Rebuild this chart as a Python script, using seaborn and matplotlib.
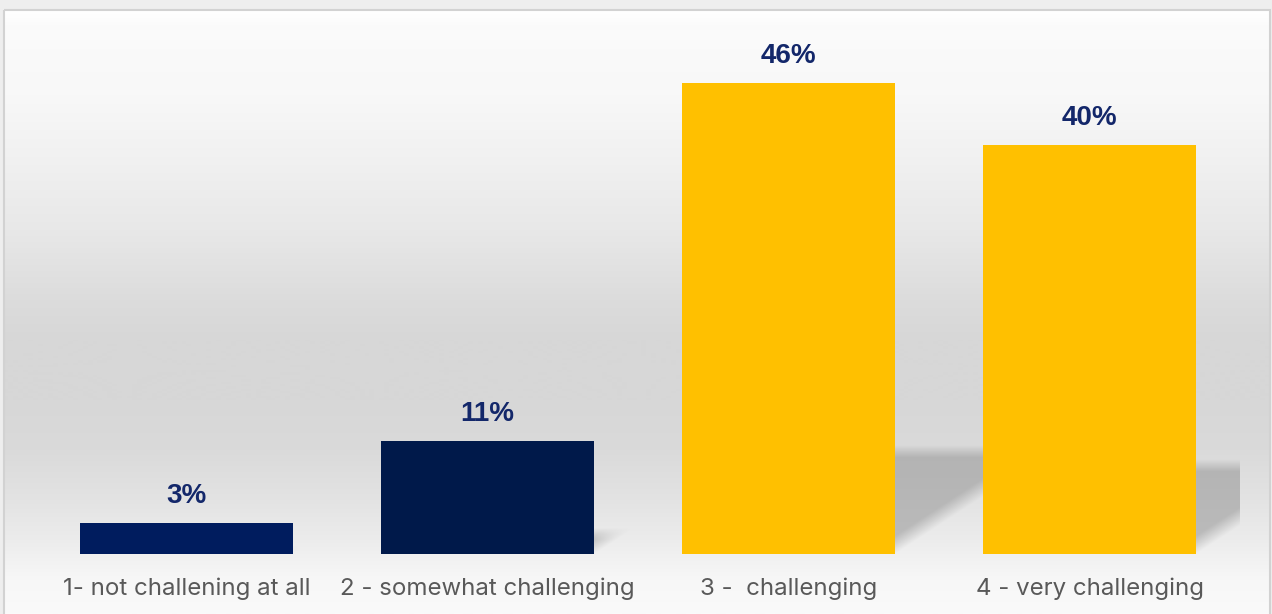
import numpy as np
import matplotlib
matplotlib.use("Agg")
import matplotlib.pyplot as plt
from matplotlib.patches import Rectangle
from matplotlib.colors import to_rgb
import seaborn as sns
import pandas as pd

categories = ["1- not challening at all", "2 - somewhat challenging",
              "3 -  challenging", "4 - very challenging"]
values = [3, 11, 46, 40]
labels = ["3%", "11%", "46%", "40%"]
bar_colors = ["#001c5e", "#00194a", "#ffc000", "#ffc000"]

sns.set_theme(style="white")
plt.rcParams["font.family"] = ["Inter", "DejaVu Sans"]

W, H = 1272, 614
fig = plt.figure(figsize=(W / 100, H / 100), dpi=100)
fig.patch.set_facecolor("#eeeeee")

# background panel with vertical gradient
bg = fig.add_axes([0, 0, 1, 1], zorder=0)
stops = [(10, "#ffffff"), (25, "#fbfbfb"), (95, "#f8f8f8"), (165, "#f0f0f0"),
         (230, "#e8e8e8"), (300, "#dcdcdc"), (340, "#d7d7d7"), (400, "#d7d7d7"),
         (450, "#dadada"), (500, "#e3e3e3"), (540, "#ececec"), (580, "#f7f7f7"),
         (614, "#fafafa")]
ys = np.arange(10, 615)
cols = np.array([to_rgb(c) for _, c in stops])
pos = np.array([p for p, _ in stops])
grad = np.stack([np.interp(ys, pos, cols[:, k]) for k in range(3)], axis=-1)[:, None, :]
bg.imshow(grad, extent=[4, 1270, 614, 10], aspect="auto", interpolation="bilinear")
bg.add_patch(Rectangle((4, 10), 1266, 620, fill=False, edgecolor="#d2d2d2", lw=1.5))
bg.set_xlim(0, W)
bg.set_ylim(H, 0)
bg.axis("off")

# main axes
px_per_unit = 10.23
ax = fig.add_axes([36 / W, 60 / H, 1204 / W, 534 / H], zorder=1)
ax.patch.set_alpha(0)
df = pd.DataFrame({"category": categories, "value": values})
sns.barplot(data=df, x="category", y="value", hue="category", palette=bar_colors,
            width=0.71, saturation=1, legend=False, ax=ax)
bars = list(ax.patches)
for b in bars:
    b.set_zorder(3)
    b.set_edgecolor("none")

# soft perspective shadows behind the bars
slope = 0.65 * 301 / px_per_unit
for b in bars:
    xr = b.get_x() + b.get_width()
    v = b.get_height()
    h = 0.23 * v
    w = 0.5
    nx, ny = 200, 200
    gx = np.linspace(0, w, nx)
    gy = np.linspace(0, h, ny)
    X, Y = np.meshgrid(gx, gy)
    ydiag = slope * X
    fade_top = np.clip((h - Y) / (12 / px_per_unit), 0, 1)
    fade_diag = np.clip((Y - ydiag) / (18 / px_per_unit), 0, 1)
    alpha = fade_top * fade_diag * 0.55
    rgba = np.zeros((ny, nx, 4))
    rgba[..., :3] = 0.58
    rgba[..., 3] = alpha
    ax.imshow(rgba, extent=[xr, xr + w, 0, h], origin="lower", aspect="auto",
              zorder=2, interpolation="bilinear")

ax.set_xlim(-0.5, 3.5)
ax.set_ylim(0, 534 / px_per_unit)
ax.set_yticks([])
ax.set_xlabel("")
ax.set_ylabel("")
for s in ax.spines.values():
    s.set_visible(False)
ax.tick_params(axis="x", length=0, pad=17, labelsize=17.3, labelcolor="#595959")

for b, lab in zip(bars, labels):
    ax.annotate(lab, (b.get_x() + b.get_width() / 2, b.get_height()),
                xytext=(0, 14.5), textcoords="offset points", ha="center",
                va="baseline", fontsize=20, fontweight="bold", color="#13276a",
                family=["Liberation Sans", "DejaVu Sans"], zorder=4)

fig.savefig("out.png", dpi=100, facecolor=fig.get_facecolor())
